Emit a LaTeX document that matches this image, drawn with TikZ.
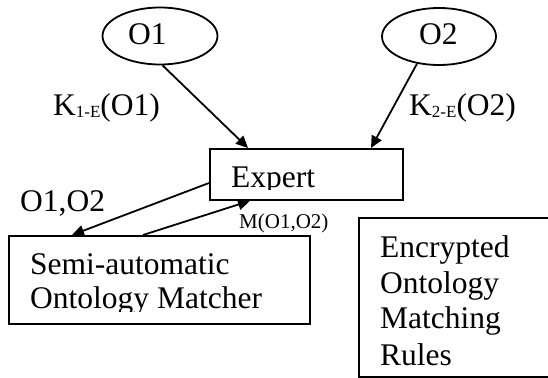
\documentclass[tikz,border=0pt]{standalone}
\usepackage{fontspec}
\setmainfont{Liberation Serif}
\usetikzlibrary{arrows.meta,shapes.geometric,calc}
\begin{document}
\begin{tikzpicture}[x=1pt,y=-1pt,
  big/.style={font=\fontsize{31.5}{36}\selectfont, inner sep=0pt, anchor=base west},
  small/.style={font=\fontsize{21}{24}\selectfont, inner sep=0pt, anchor=base west},
  boxstyle/.style={draw, line width=1.8pt, rectangle, inner sep=0pt, anchor=north west},
  oval/.style={draw, ellipse, line width=1.8pt, inner sep=0pt},
  conn/.style={line width=1.8pt, -{Triangle[length=12pt,width=11pt]}}
]
\useasboundingbox (0,0) rectangle (548,377);
\clip (0,0) rectangle (548,377);

% ellipses
\node[oval, minimum width=115pt, minimum height=57pt] (O1) at (160,36) {};
\node[oval, minimum width=114pt, minimum height=57pt] (O2) at (439,36.5) {};
\node[big] (O1t) at (128,45) {O1};
\node[big] (O2t) at (419,45) {O2};

% boxes
\node[boxstyle, minimum width=193pt, minimum height=51pt] (expert) at (209,148) {};
\node[boxstyle, minimum width=301pt, minimum height=88pt] (semi) at (8,235) {};
\node[boxstyle, minimum width=200pt, minimum height=159pt] (rules) at (358,217) {};

% clipped box texts
\begin{scope}
  \clip (209,148) rectangle (402,189.5);
  \node[big] (expertt) at (231,187) {Expert};
\end{scope}
\begin{scope}
  \clip (8,235) rectangle (309,311);
  \node[big] (semi1) at (30,274) {Semi-automatic};
  \node[big] (semi2) at (30,308) {Ontology Matcher};
\end{scope}
\node[big] (r1) at (380,257) {Encrypted};
\node[big] (r2) at (380,293) {Ontology};
\node[big] (r3) at (380,328) {Matching};
\node[big] (r4) at (380,365) {Rules};

% connectors
\draw[conn] (O1.-85) -- ($(expert.north west)+(39,0)$);
\draw[conn] (O2.-129) -- ($(expert.north west)+(162,0)$);
\draw[conn] ($(expert.north west)+(0,35)$) -- ($(semi.north west)+(64,0)$);
\draw[conn] ($(semi.north west)+(135,0)$) -- ($(expert.south west)+(41,0)$);

% labels
\node[big] (k1) at (53,115) {K\raisebox{-2.5pt}{\fontsize{17}{17}\selectfont 1-E}(O1)};
\node[big] (k2) at (409,115) {K\raisebox{-2.5pt}{\fontsize{17}{17}\selectfont 2-E}(O2)};
\node[big] (o12) at (20,211) {O1,O2};
\node[small] (m12) at (239,228) {M(O1,O2)};
\end{tikzpicture}
\end{document}
